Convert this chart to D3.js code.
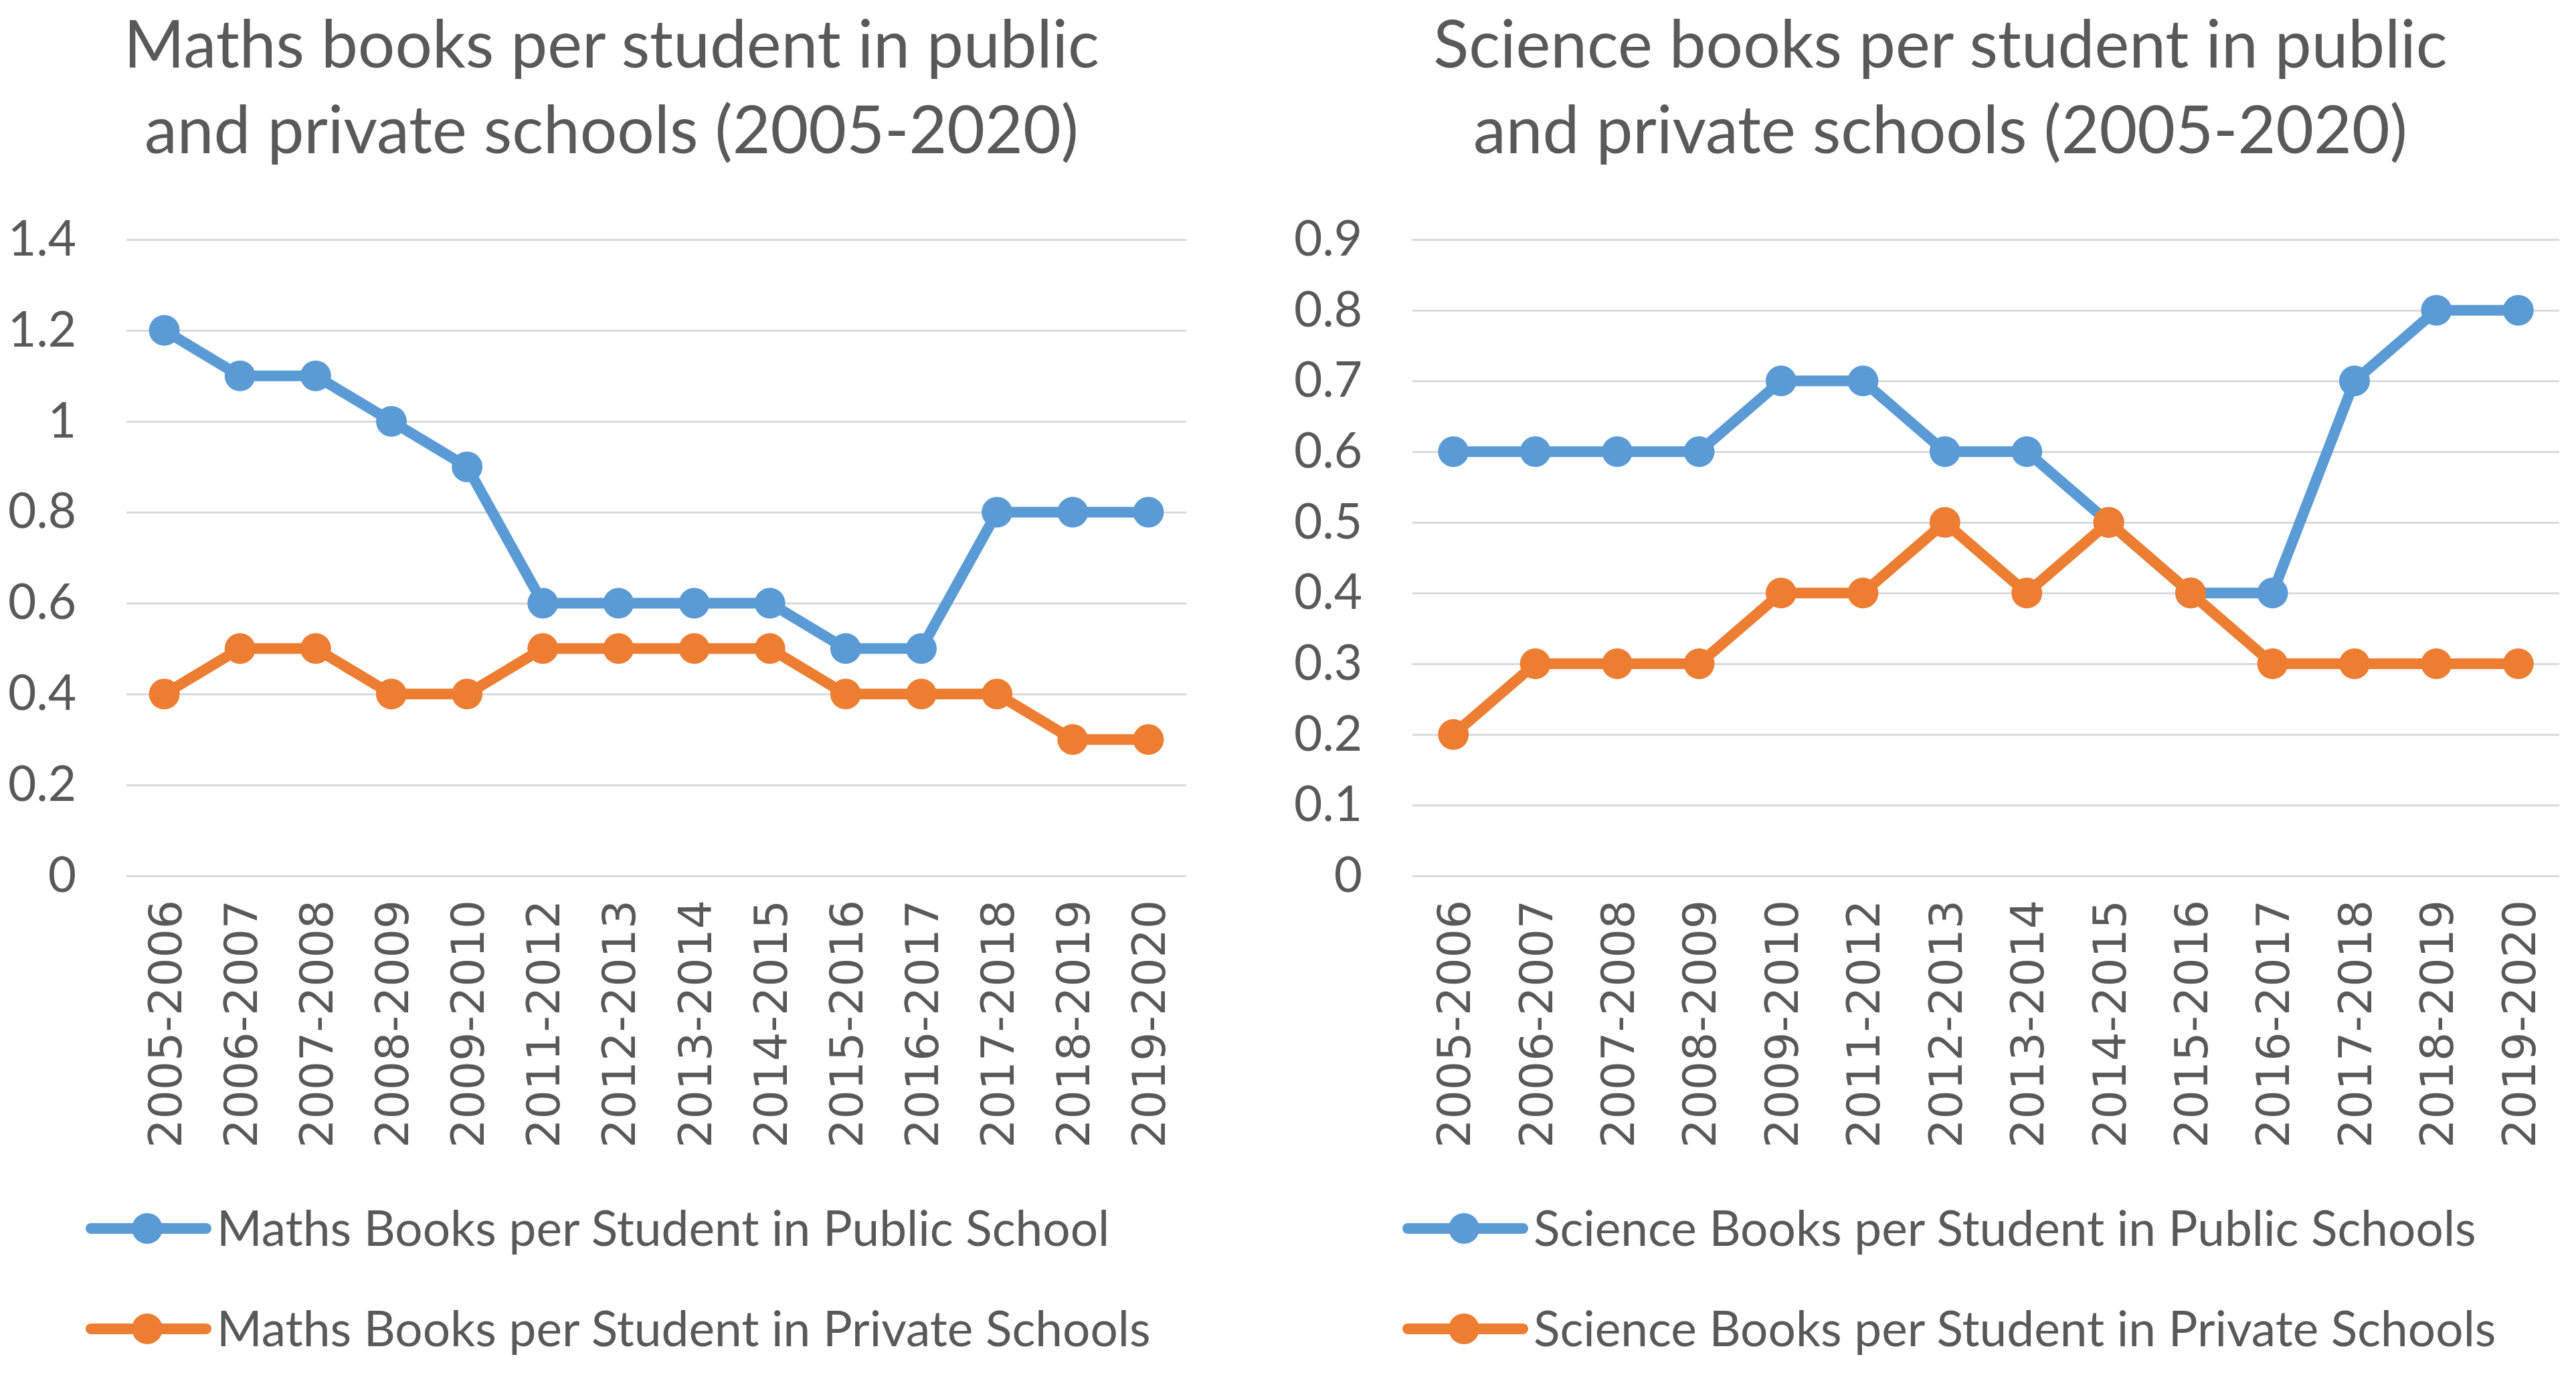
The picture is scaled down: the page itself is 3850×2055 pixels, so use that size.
<!DOCTYPE html>
<html>
<head>
<meta charset="utf-8">
<script src="https://cdn.jsdelivr.net/npm/d3@7"></script>
<style>
  html, body { margin: 0; padding: 0; background: #fff; }
  svg { display: block; }
</style>
</head>
<body>
<div id="chart"></div>
<script>
// school years on the x axis (same for both charts)
const categories = ["2005-2006", "2006-2007", "2007-2008", "2008-2009", "2009-2010",
  "2011-2012", "2012-2013", "2013-2014", "2014-2015", "2015-2016",
  "2016-2017", "2017-2018", "2018-2019", "2019-2020"];

// maths books per student
const mathsPublic = [1.2, 1.1, 1.1, 1.0, 0.9, 0.6, 0.6, 0.6, 0.6, 0.5, 0.5, 0.8, 0.8, 0.8];
const mathsPrivate = [0.4, 0.5, 0.5, 0.4, 0.4, 0.5, 0.5, 0.5, 0.5, 0.4, 0.4, 0.4, 0.3, 0.3];
const mathsTicks = [0, 0.2, 0.4, 0.6, 0.8, 1, 1.2, 1.4];

// science books per student
const sciencePublic = [0.6, 0.6, 0.6, 0.6, 0.7, 0.7, 0.6, 0.6, 0.5, 0.4, 0.4, 0.7, 0.8, 0.8];
const sciencePrivate = [0.2, 0.3, 0.3, 0.3, 0.4, 0.4, 0.5, 0.4, 0.5, 0.4, 0.3, 0.3, 0.3, 0.3];
const scienceTicks = [0, 0.1, 0.2, 0.3, 0.4, 0.5, 0.6, 0.7, 0.8, 0.9];

const mathsTitle = ["Maths books per student in public", "and private schools (2005-2020)"];
const scienceTitle = ["Science books per student in public", "and private schools (2005-2020)"];
const mathsNames = ["Maths Books per Student in Public School", "Maths Books per Student in Private Schools"];
const scienceNames = ["Science Books per Student in Public Schools", "Science Books per Student in Private Schools"];

const colors = ["#5B9BD5", "#ED7D31"];

const W = 3850, H = 2055;
const textColor = "#595959";
const mainFont = "Lato, 'Open Sans', sans-serif";
const catFont = "'DejaVu Sans', Verdana, sans-serif";

const svg = d3.select("#chart").append("svg")
  .attr("width", W)
  .attr("height", H);

svg.append("rect").attr("width", W).attr("height", H).attr("fill", "#fff");

function drawChart(opt) {
  const g = svg.append("g");

  const x = d3.scalePoint()
    .domain(categories)
    .range([opt.left, opt.right])
    .padding(0.5);

  const y = d3.scaleLinear()
    .domain([0, opt.ticks[opt.ticks.length - 1]])
    .range([1309, 358]);

  // title, two lines
  g.append("text")
    .attr("x", opt.titleX)
    .attr("y", 101)
    .attr("text-anchor", "middle")
    .attr("font-family", mainFont)
    .attr("font-size", 98)
    .attr("fill", textColor)
    .selectAll("tspan")
    .data(opt.title)
    .join("tspan")
      .attr("x", opt.titleX)
      .attr("dy", (d, i) => i === 0 ? 0 : 128)
      .text(d => d);

  // y axis + gridlines
  const yAxis = g.append("g")
    .attr("transform", "translate(" + opt.left + ",0)")
    .call(d3.axisLeft(y)
      .tickValues(opt.ticks)
      .tickSize(-(opt.right - opt.left))
      .tickPadding(75)
      .tickFormat(d => String(d)));
  yAxis.select(".domain").remove();
  yAxis.selectAll(".tick line")
    .attr("stroke", "#d9d9d9")
    .attr("stroke-width", 3);
  yAxis.selectAll(".tick text")
    .attr("fill", textColor)
    .attr("font-family", mainFont)
    .attr("font-size", 73);

  // x axis, labels turned upright
  const xAxis = g.append("g")
    .attr("transform", "translate(0," + y(0) + ")")
    .call(d3.axisBottom(x).tickSize(0));
  xAxis.select(".domain").remove();
  xAxis.selectAll(".tick text")
    .attr("transform", "rotate(-90)")
    .attr("x", -36)
    .attr("y", 0)
    .attr("dy", "0.36em")
    .style("text-anchor", "end")
    .attr("fill", textColor)
    .attr("font-family", catFont)
    .attr("font-size", 68);

  const line = d3.line()
    .x((d, i) => x(categories[i]))
    .y(d => y(d));

  opt.series.forEach((values, s) => {
    const sg = g.append("g");
    sg.append("path")
      .datum(values)
      .attr("d", line)
      .attr("fill", "none")
      .attr("stroke", colors[s])
      .attr("stroke-width", 16)
      .attr("stroke-linejoin", "round")
      .attr("stroke-linecap", "round");
    sg.selectAll("circle")
      .data(values)
      .join("circle")
        .attr("cx", (d, i) => x(categories[i]))
        .attr("cy", d => y(d))
        .attr("r", 23)
        .attr("fill", colors[s]);
  });

  // legend
  const leg = g.append("g")
    .selectAll("g")
    .data(opt.names)
    .join("g")
      .attr("transform", (d, i) => "translate(" + opt.legendX + "," + (1836 + i * 150) + ")");
  leg.append("line")
    .attr("x1", 8).attr("x2", 180)
    .attr("stroke", (d, i) => colors[i])
    .attr("stroke-width", 16)
    .attr("stroke-linecap", "round");
  leg.append("circle")
    .attr("cx", 92)
    .attr("r", 23)
    .attr("fill", (d, i) => colors[i]);
  leg.append("text")
    .attr("x", 196)
    .attr("dy", "0.35em")
    .attr("font-family", mainFont)
    .attr("font-size", 73)
    .attr("fill", textColor)
    .text(d => d);
}

drawChart({
  left: 189, right: 1773, titleX: 914, legendX: 128,
  ticks: mathsTicks, title: mathsTitle, names: mathsNames,
  series: [mathsPublic, mathsPrivate]
});

drawChart({
  left: 2111, right: 3825, titleX: 2900, legendX: 2096,
  ticks: scienceTicks, title: scienceTitle, names: scienceNames,
  series: [sciencePublic, sciencePrivate]
});
</script>
</body>
</html>
